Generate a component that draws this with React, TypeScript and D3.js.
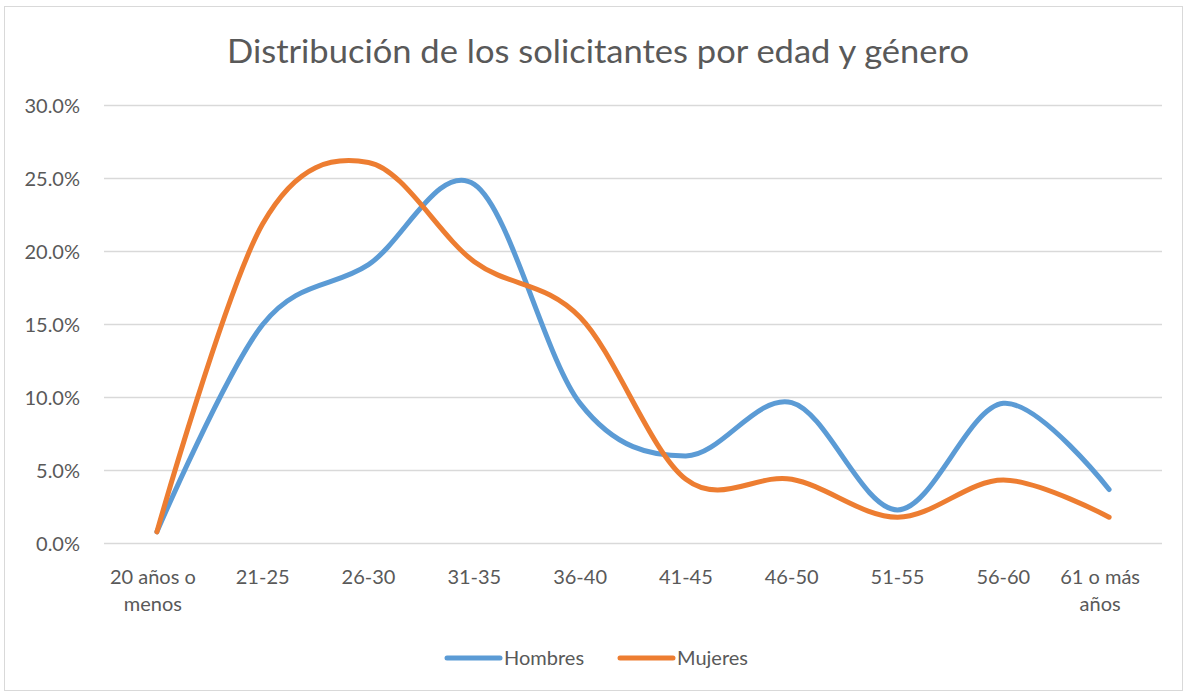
import React from 'react';
import * as d3 from 'd3';

const categories = ['20 años o menos', '21-25', '26-30', '31-35', '36-40', '41-45', '46-50', '51-55', '56-60', '61 o más años'];
const categoryLines = [['20 años o', 'menos'], ['21-25'], ['26-30'], ['31-35'], ['36-40'], ['41-45'], ['46-50'], ['51-55'], ['56-60'], ['61 o más', 'años']];
const hombres = [0.8, 15.0, 19.1, 24.6, 9.6, 6.0, 9.65, 2.3, 9.6, 3.7];
const mujeres = [0.8, 21.9, 26.1, 19.3, 15.5, 4.4, 4.4, 1.8, 4.35, 1.8];
const yTicks = [0, 5, 10, 15, 20, 25, 30];
const seriesNames = ['Hombres', 'Mujeres'];
const seriesColors = ['#5B9BD5', '#ED7D31'];

const W = 1188;
const H = 694;
const FONT = 'Lato, "Open Sans", sans-serif';
const TEXT = '#595959';

export default function App() {
  // plot area
  const x = d3.scalePoint<string>().domain(categories).range([104, 1162]).padding(0.5);
  const y = d3.scaleLinear().domain([0, 30]).range([543.5, 105.5]);

  const line = d3.line<number>()
    .x((_, i) => x(categories[i]) as number)
    .y(d => y(d))
    .curve(d3.curveCardinal.tension(0));

  const series = [hombres, mujeres];
  const labelX = (c: string, i: number) =>
    (x(c) as number) - (i === 0 ? 4 : i === categories.length - 1 ? 9 : 0);

  return (
    <svg width={W} height={H} style={{ position: 'absolute', left: 0, top: 0 }} fontFamily={FONT}>
      <rect x={0} y={0} width={W} height={H} fill="#fff" />
      <rect x={4.5} y={6.5} width={1178} height={684} fill="#fff" stroke="#d9d9d9" strokeWidth={1} />

      <text x={598} y={63} textAnchor="middle" fontSize={33} fill={TEXT} textLength={742} lengthAdjust="spacingAndGlyphs">
        Distribución de los solicitantes por edad y género
      </text>

      {/* gridlines + y labels */}
      {yTicks.map(t => (
        <g key={t}>
          <line x1={104} x2={1162} y1={y(t)} y2={y(t)} stroke="#d9d9d9" strokeWidth={1.5} />
          <text x={80} y={y(t)} dy="0.36em" textAnchor="end" fontSize={20} fill={TEXT}>
            {d3.format('.1f')(t)}%
          </text>
        </g>
      ))}

      {/* x labels */}
      {categories.map((c, i) => (
        <text key={c} x={labelX(c, i)} y={584} textAnchor="middle" fontSize={20} fill={TEXT}>
          {categoryLines[i].map((l, j) => (
            <tspan key={j} x={labelX(c, i)} dy={j === 0 ? 0 : 27}>{l}</tspan>
          ))}
        </text>
      ))}

      {/* lines */}
      {series.map((s, i) => (
        <path key={seriesNames[i]} d={line(s) || ''} fill="none" stroke={seriesColors[i]} strokeWidth={5} strokeLinecap="round" strokeLinejoin="round" />
      ))}

      {/* legend */}
      {seriesNames.map((n, i) => {
        const lx = 447 + i * 173;
        return (
          <g key={n}>
            <line x1={lx} x2={lx + 53} y1={658} y2={658} stroke={seriesColors[i]} strokeWidth={5} strokeLinecap="round" />
            <text x={lx + 57} y={658} dy="0.36em" fontSize={20} fill={TEXT}>{n}</text>
          </g>
        );
      })}
    </svg>
  );
}
